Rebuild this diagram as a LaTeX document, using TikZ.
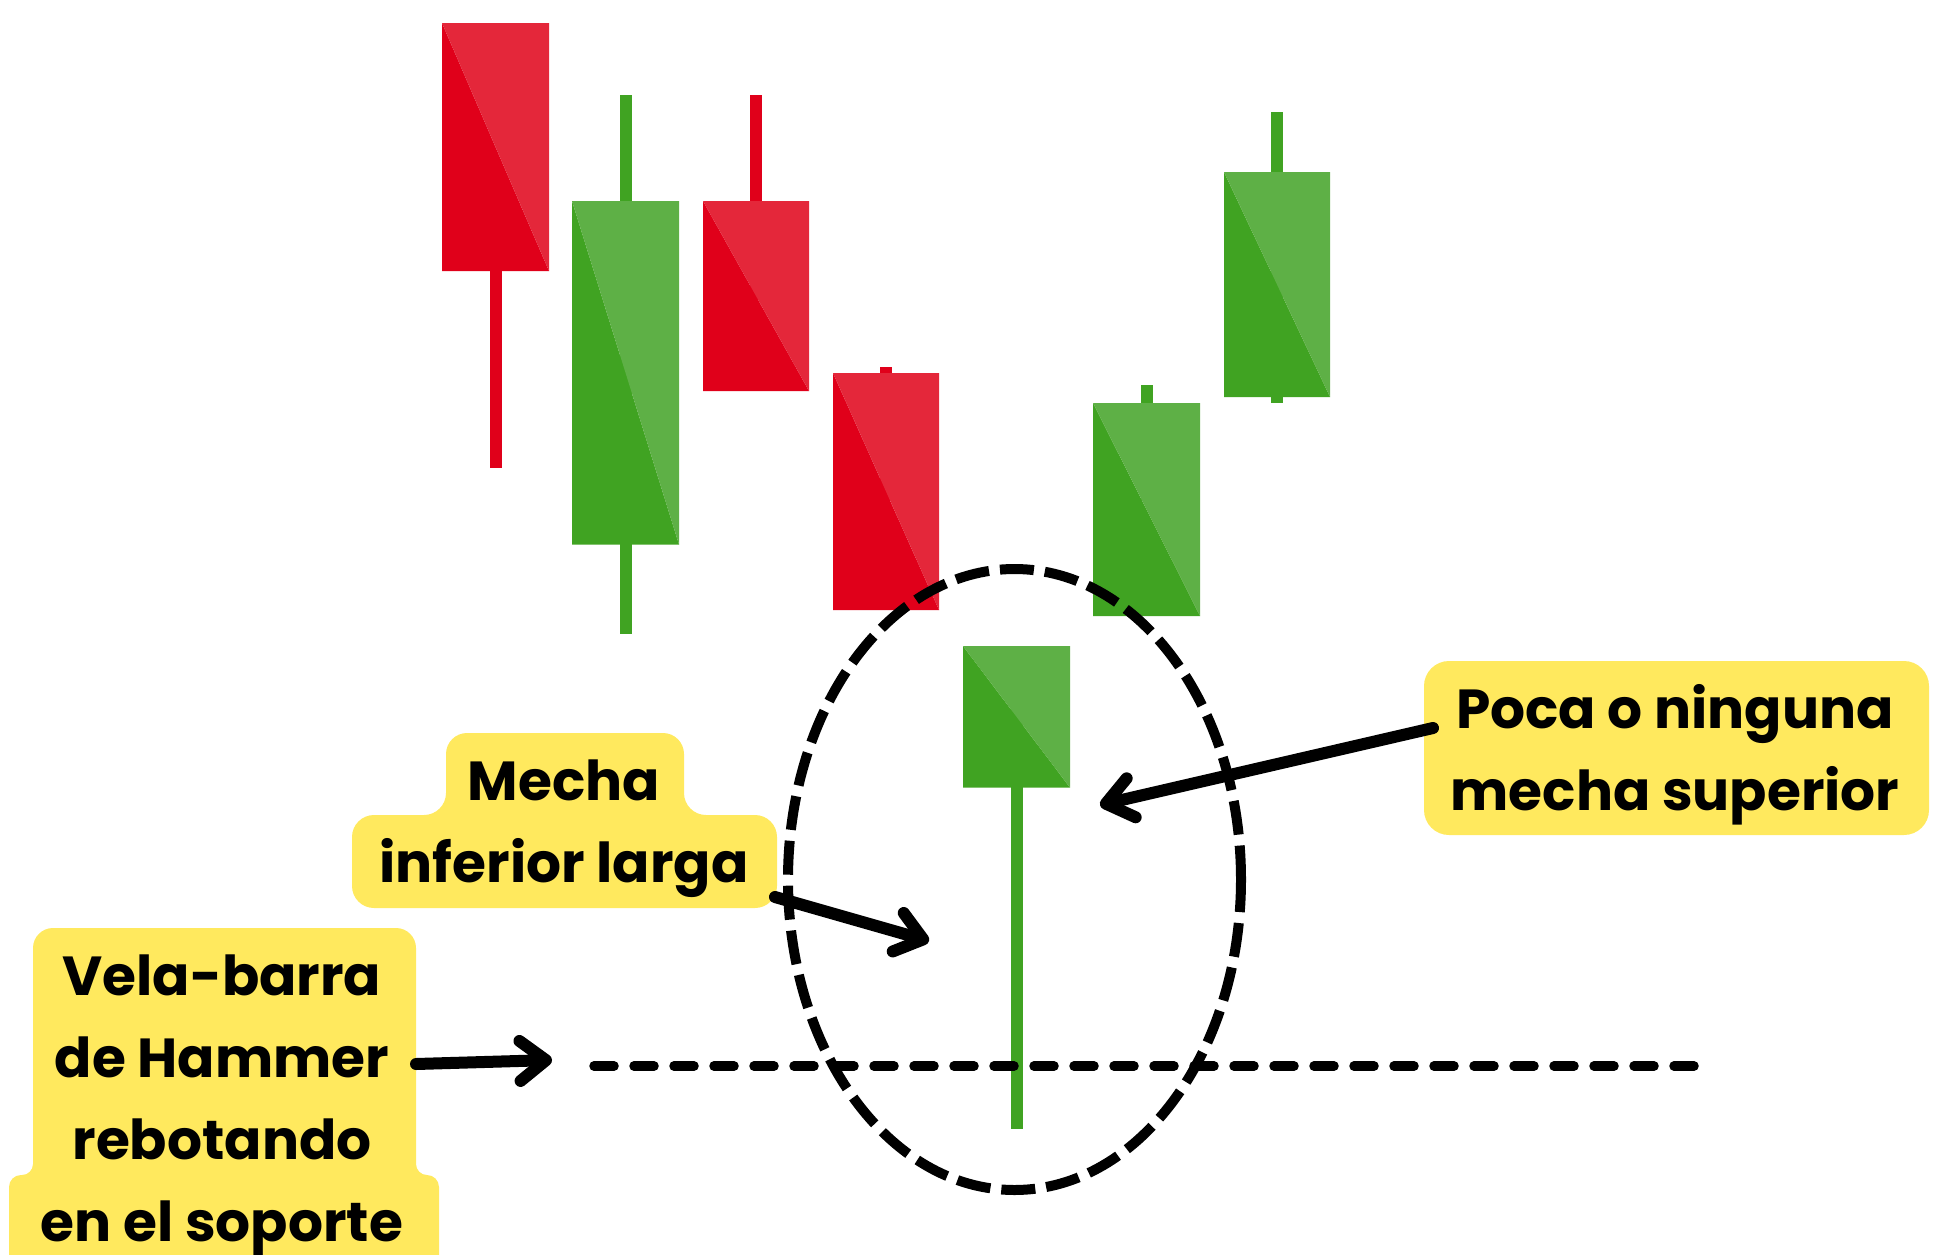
\documentclass[tikz,border=0pt]{standalone}
\usepackage{fontspec}
\setmainfont{Poppins}
\usetikzlibrary{arrows.meta,shapes.geometric}
\definecolor{redD}{RGB}{224,0,26}
\definecolor{redL}{RGB}{228,39,58}
\definecolor{greenD}{RGB}{64,163,34}
\definecolor{greenL}{RGB}{94,176,70}
\definecolor{boxY}{RGB}{255,233,94}
\newcommand\mycandle[8]{%
  \fill[#7] ({(#1+#2)/2-6},#5) rectangle ({(#1+#2)/2+6},#6);
  \fill[#7] (#1,#3) -- (#1,#4) -- (#2,#4) -- cycle;
  \fill[#8] (#1,#3) -- (#2,#3) -- (#2,#4) -- cycle;
}
\tikzset{
  lbl/.style={font=\fontsize{55}{82}\selectfont\bfseries, inner sep=0pt, anchor=base},
  callout/.style={line width=12pt, line cap=round,
    -{Straight Barb[length=26pt,width=40pt,line cap=round,line join=round]}},
  zonering/.style={draw, ellipse, line width=10pt, dash pattern=on 34pt off 11pt, inner sep=0pt},
  supportline/.style={line width=9.5pt, line cap=round, dash pattern=on 20pt off 20pt}
}
\begin{document}
\begin{tikzpicture}[x=1pt,y=-1pt]
\useasboundingbox (0,0) rectangle (1936,1254);
\clip (0,0) rectangle (1936,1254);
% candles
\mycandle{442}{549}{23}{271}{200}{468}{redD}{redL}
\mycandle{572}{679}{201}{544.5}{95}{634}{greenD}{greenL}
\mycandle{703}{809}{201}{391}{95}{300}{redD}{redL}
\mycandle{833}{939}{373}{610}{367}{500}{redD}{redL}
\mycandle{963}{1070}{646}{787.6}{700}{1129}{greenD}{greenL}
\mycandle{1093}{1200}{403}{616}{385}{500}{greenD}{greenL}
\mycandle{1224}{1330}{172}{397}{112}{402.7}{greenD}{greenL}
% dashed ellipse
\node[zonering, minimum width=453pt, minimum height=621pt] (zone) at (1014.5,879.5) {};
% support line
\coordinate (supL) at (594,1066);
\coordinate (supR) at (1694,1066);
\draw[supportline] (supL) -- (supR);
% yellow boxes
\fill[boxY] (467,733) -- (663,733) arc (270:360:21) -- (684,793) arc (180:90:22)
  -- (755,815) arc (270:360:22) -- (777,886) arc (0:90:22) -- (374,908) arc (90:180:22)
  -- (352,837) arc (180:270:22) -- (424,815) arc (90:0:22) -- (446,754) arc (180:270:21) -- cycle;
\fill[boxY] (53,928) -- (396,928) arc (270:360:20) -- (416,1164) arc (180:90:11)
  -- (427,1175) arc (270:360:12) -- (439,1300) -- (9,1300) -- (9,1187) arc (180:270:12)
  -- (22,1175) arc (90:0:11) -- (33,948) arc (180:270:20) -- cycle;
\fill[boxY, rounded corners=25pt] (1424,661) rectangle (1929,835);
% labels
\node[lbl] (mecha) at (564,800.7) {\begin{tabular}[t]{@{}c@{}}Mecha\\inferior larga\end{tabular}};
\node[lbl] (vela) at (222,995.2) {\begin{tabular}[t]{@{}c@{}}Vela-barra\\de Hammer\\rebotando\\en el soporte\end{tabular}};
\node[lbl] (poca) at (1675,728) {\begin{tabular}[t]{@{}c@{}}Poca o ninguna\\mecha superior\end{tabular}};
% arrows
\coordinate (mechaTail) at (775,897);
\coordinate (mechaTip) at (929,941);
\coordinate (pocaTail) at (1433,728);
\coordinate (pocaTip) at (1100,805);
\coordinate (velaTail) at (416,1064);
\coordinate (velaTip) at (552,1060);
\draw[callout] (mechaTail) -- (mechaTip);
\draw[callout] (pocaTail) -- (pocaTip);
\draw[callout] (velaTail) -- (velaTip);
\end{tikzpicture}
\end{document}
